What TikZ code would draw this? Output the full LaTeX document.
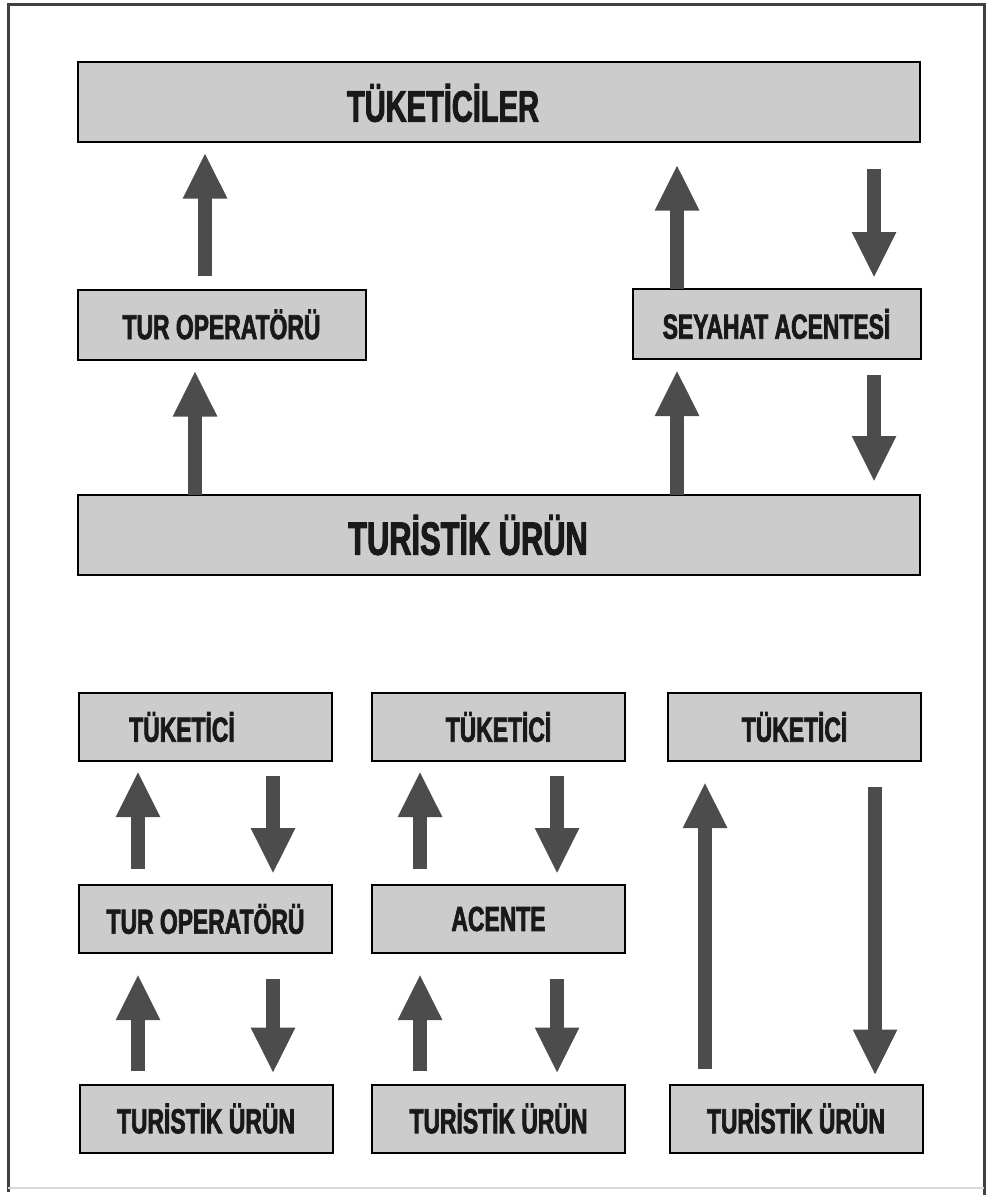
\documentclass[tikz,border=0pt]{standalone}
\usepackage{fontspec}
\setmainfont{Liberation Sans}[FakeStretch=0.66, FakeBold=2]
\usetikzlibrary{arrows.meta}

\tikzset{every picture/.style={line width=0.75pt}}
\tikzset{
	bx/.style={draw=black, line width=1.5pt, fill=black!20, inner sep=0pt, outer sep=0pt, text=black!90, font=\bfseries\fontsize{26}{30}\selectfont},
	widebox/.style={bx, minimum width=631.5pt, minimum height=60pt},
	midbox/.style={bx, minimum width=216pt, minimum height=52.5pt},
	smallbox/.style={bx, minimum width=189.75pt, minimum height=51pt},
	lbl/.style={inner sep=0pt, text=black!90, font=\bfseries\fontsize{33}{36}\selectfont},
	flow/.style={draw=black!70, line width=10.5pt, -{Triangle[length=34.5pt,width=30.75pt]}},
}

\begin{document}
\begin{tikzpicture}[x=0.75pt,y=0.75pt,yscale=-1,xscale=1]
	\useasboundingbox (0,0) rectangle (995,1195);

	%Frame
	\draw [black!75, line width=2.25pt] (8,1192) -- (8,5) -- (984,5) -- (984,1195) ;
	\draw [black!15, line width=1pt] (8,1188) -- (984,1188) ;

	%Shape: Rectangle [upper part]
	\node [widebox] (top) at (499,102.5) {};
	\node [midbox] (tur1) at (221.5,324.5) {TUR OPERATÖRÜ};
	\node [midbox] (sa) at (776.5,324) {SEYAHAT ACENTESİ};
	\node [widebox] (urun) at (499,535) {};
	% Text Node
	\node [lbl] (topl) at (443,103) {TÜKETİCİLER};
	% Text Node
	\node [lbl, font=\bfseries\fontsize{35}{38}\selectfont] (urunl) at (468,535) {TURİSTİK ÜRÜN};

	%Shape: Rectangle [lower part]
	\node [smallbox] (tk1) at (205.5,727) {};
	\node [smallbox] (tur2) at (205.5,919) {TUR OPERATÖRÜ};
	\node [smallbox] (ur1) at (206,1118.5) {TURİSTİK ÜRÜN};
	\node [smallbox] (tk2) at (498.5,727) {TÜKETİCİ};
	\node [smallbox] (ac) at (498.5,919) {ACENTE};
	\node [smallbox] (ur2) at (498.5,1118.5) {TURİSTİK ÜRÜN};
	\node [smallbox] (tk3) at (794.5,727) {TÜKETİCİ};
	\node [smallbox] (ur3) at (796,1118.5) {TURİSTİK ÜRÜN};
	% Text Node
	\node [lbl, font=\bfseries\fontsize{26}{30}\selectfont] (tk1l) at (182,727) {TÜKETİCİ};

	%Arrow columns
	\coordinate (xa) at (205,0);
	\coordinate (xb) at (195,0);
	\coordinate (xc) at (677,0);
	\coordinate (xd) at (874,0);
	\coordinate (xe) at (138,0);
	\coordinate (xf) at (273,0);
	\coordinate (xg) at (420,0);
	\coordinate (xh) at (557,0);
	\coordinate (xi) at (705,0);
	\coordinate (xj) at (875,0);

	%Block Arrows [upper part]
	\draw [flow, shorten <=10.5pt, shorten >=7.5pt] (xa |- tur1.north) -- (xa |- top.south) ;
	\draw [flow, shorten >=8.25pt] (xb |- urun.north) -- (xb |- tur1.south) ;
	\draw [flow, shorten >=16.5pt] (xc |- sa.north) -- (xc |- top.south) ;
	\draw [flow, shorten <=20.25pt, shorten >=8.25pt] (xd |- top.south) -- (xd |- sa.north) ;
	\draw [flow, shorten >=8.25pt] (xc |- urun.north) -- (xc |- sa.south) ;
	\draw [flow, shorten <=12pt, shorten >=9.75pt] (xd |- sa.south) -- (xd |- urun.north) ;

	%Block Arrows [lower part]
	\draw [flow, shorten <=12pt, shorten >=7.5pt] (xe |- tur2.north) -- (xe |- tk1.south) ;
	\draw [flow, shorten <=11.25pt, shorten >=8.25pt] (xf |- tk1.south) -- (xf |- tur2.north) ;
	\draw [flow, shorten <=10.5pt, shorten >=15.75pt] (xe |- ur1.north) -- (xe |- tur2.south) ;
	\draw [flow, shorten <=19.5pt, shorten >=8.25pt] (xf |- tur2.south) -- (xf |- ur1.north) ;
	\draw [flow, shorten <=12pt, shorten >=7.5pt] (xg |- ac.north) -- (xg |- tk2.south) ;
	\draw [flow, shorten <=11.25pt, shorten >=8.25pt] (xh |- tk2.south) -- (xh |- ac.north) ;
	\draw [flow, shorten <=10.5pt, shorten >=15.75pt] (xg |- ur2.north) -- (xg |- ac.south) ;
	\draw [flow, shorten <=19.5pt, shorten >=8.25pt] (xh |- ac.south) -- (xh |- ur2.north) ;
	\draw [flow, shorten <=12pt, shorten >=15.75pt] (xi |- ur3.north) -- (xi |- tk3.south) ;
	\draw [flow, shorten <=19.5pt, shorten >=6.75pt] (xj |- tk3.south) -- (xj |- ur3.north) ;

\end{tikzpicture}
\end{document}
